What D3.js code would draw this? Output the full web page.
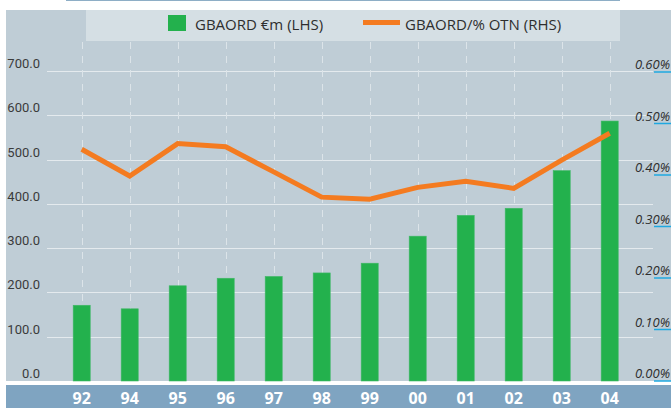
<!DOCTYPE html>
<html>
<head>
<meta charset="utf-8">
<script src="https://cdn.jsdelivr.net/npm/d3@7"></script>
<style>
  body { margin: 0; background: #fff; }
  svg { display: block; }
</style>
</head>
<body>
<div id="chart"></div>
<script>
// Data
const years = ['92', '94', '95', '96', '97', '98', '99', '00', '01', '02', '03', '04']
const gbaord = [171, 163, 215, 232, 236, 244, 266, 327, 374, 390, 475, 587]
const gbaordPct = [0.450, 0.398, 0.461, 0.455, 0.406, 0.357, 0.353, 0.376, 0.388, 0.374, 0.429, 0.481]
const leftTicks = [0, 100, 200, 300, 400, 500, 600, 700]
const rightTicks = [0, 0.1, 0.2, 0.3, 0.4, 0.5, 0.6]
const legendLabels = ['GBAORD €m (LHS)', 'GBAORD/% OTN (RHS)']

function draw() {
  // Dimensions
  let dimensions = {
    width: 671,
    height: 408,
    bgLeft: 6,
    bgTop: 10,
    plotTop: 71,
    plotBottom: 381,
    gridLeft: 47,
    gridRight: 653
  }

  const svg = d3.select('#chart')
    .append('svg')
    .attr('width', dimensions.width)
    .attr('height', dimensions.height)

  // Scales
  const xScale = d3.scaleBand()
    .domain(years)
    .range([57.7, 633.7])
    .paddingInner(0.645)
    .paddingOuter(0.3225)

  const yLeft = d3.scaleLinear()
    .domain([0, 700])
    .range([dimensions.plotBottom, dimensions.plotTop])

  const yRight = d3.scaleLinear()
    .domain([0, 0.6])
    .range([dimensions.plotBottom, 72])

  const xCenter = d => xScale(d) + xScale.bandwidth() / 2

  // Backgrounds
  svg.append('line')
    .attr('x1', 66).attr('x2', 620)
    .attr('y1', 0.5).attr('y2', 0.5)
    .attr('stroke', '#8eaec6')

  svg.append('rect')
    .attr('x', dimensions.bgLeft)
    .attr('y', dimensions.bgTop)
    .attr('width', dimensions.width - dimensions.bgLeft)
    .attr('height', dimensions.plotBottom - dimensions.bgTop)
    .attr('fill', '#bfcdd6')

  svg.append('rect')
    .attr('x', 86)
    .attr('y', dimensions.bgTop)
    .attr('width', 534)
    .attr('height', 31)
    .attr('fill', '#d5dfe4')

  svg.append('rect')
    .attr('x', dimensions.bgLeft)
    .attr('y', 385)
    .attr('width', dimensions.width - dimensions.bgLeft)
    .attr('height', dimensions.height - 385)
    .attr('fill', '#7fa4c1')

  // Grid
  svg.append('g')
    .selectAll('line')
    .data(leftTicks.slice(1))
    .join('line')
    .attr('x1', dimensions.gridLeft)
    .attr('x2', dimensions.gridRight)
    .attr('y1', d => Math.round(yLeft(d)) + 0.5)
    .attr('y2', d => Math.round(yLeft(d)) + 0.5)
    .attr('stroke', '#e4eaee')
    .attr('stroke-width', 1)

  svg.append('g')
    .selectAll('line')
    .data(years)
    .join('line')
    .attr('x1', d => Math.round(xCenter(d)) + 0.5)
    .attr('x2', d => Math.round(xCenter(d)) + 0.5)
    .attr('y1', 42)
    .attr('y2', dimensions.plotBottom)
    .attr('stroke', '#dce4e9')
    .attr('stroke-width', 1)
    .attr('stroke-dasharray', '7,7')

  // Bars
  svg.append('g')
    .selectAll('rect')
    .data(years)
    .join('rect')
    .attr('x', d => xScale(d))
    .attr('width', xScale.bandwidth())
    .attr('y', (d, i) => yLeft(gbaord[i]))
    .attr('height', (d, i) => dimensions.plotBottom - yLeft(gbaord[i]))
    .attr('fill', '#23b14d')
    .attr('stroke', '#3fb866')
    .attr('stroke-width', 0.6)

  // Line
  const line = d3.line()
    .x(d => xCenter(d[0]))
    .y(d => yRight(d[1]))

  svg.append('path')
    .datum(years.map((y, i) => [y, gbaordPct[i] ]))
    .attr('d', line)
    .attr('fill', 'none')
    .attr('stroke', '#f47b20')
    .attr('stroke-width', 5)
    .attr('stroke-linejoin', 'miter')

  // Left axis labels
  svg.append('g')
    .selectAll('text')
    .data(leftTicks)
    .join('text')
    .attr('x', 40)
    .attr('y', d => yLeft(d) - 3)
    .attr('text-anchor', 'end')
    .style('font-family', '"Liberation Sans Narrow", Roboto, sans-serif')
    .style('font-size', '13px')
    .attr('fill', '#3b3b3b')
    .text(d => d3.format('.1f')(d))

  // Right axis labels
  const rightAxis = svg.append('g')

  rightAxis.selectAll('line')
    .data(rightTicks)
    .join('line')
    .attr('x1', 654)
    .attr('x2', 671)
    .attr('y1', d => yRight(d))
    .attr('y2', d => yRight(d))
    .attr('stroke', '#1fa8e0')
    .attr('stroke-width', 1.5)

  rightAxis.selectAll('text')
    .data(rightTicks)
    .join('text')
    .attr('x', 670)
    .attr('y', d => yRight(d) - 3)
    .attr('text-anchor', 'end')
    .style('font-family', '"Open Sans", sans-serif')
    .style('font-style', 'italic')
    .style('font-size', '13px')
    .attr('fill', '#2e2e2e')
    .text(d => d3.format('.2f')(d) + '%')

  // Category labels
  svg.append('g')
    .selectAll('text')
    .data(years)
    .join('text')
    .attr('x', d => xCenter(d))
    .attr('y', 404)
    .attr('text-anchor', 'middle')
    .style('font-family', '"Liberation Sans Narrow", "Open Sans", sans-serif')
    .style('font-weight', 'bold')
    .style('font-size', '16px')
    .attr('fill', '#ffffff')
    .text(d => d)

  // Legend
  const legend = svg.append('g')
    .style('font-family', '"Open Sans", sans-serif')
    .style('font-size', '15px')
    .attr('fill', '#2e2e2e')

  legend.append('rect')
    .attr('x', 168)
    .attr('y', 15)
    .attr('width', 18)
    .attr('height', 16)
    .attr('fill', '#23b14d')

  legend.append('text')
    .attr('x', 195)
    .attr('y', 30)
    .text(legendLabels[0])

  legend.append('line')
    .attr('x1', 363)
    .attr('x2', 400)
    .attr('y1', 22.5)
    .attr('y2', 22.5)
    .attr('stroke', '#f47b20')
    .attr('stroke-width', 5)

  legend.append('text')
    .attr('x', 405)
    .attr('y', 30)
    .text(legendLabels[1])
}

draw()
</script>
</body>
</html>
